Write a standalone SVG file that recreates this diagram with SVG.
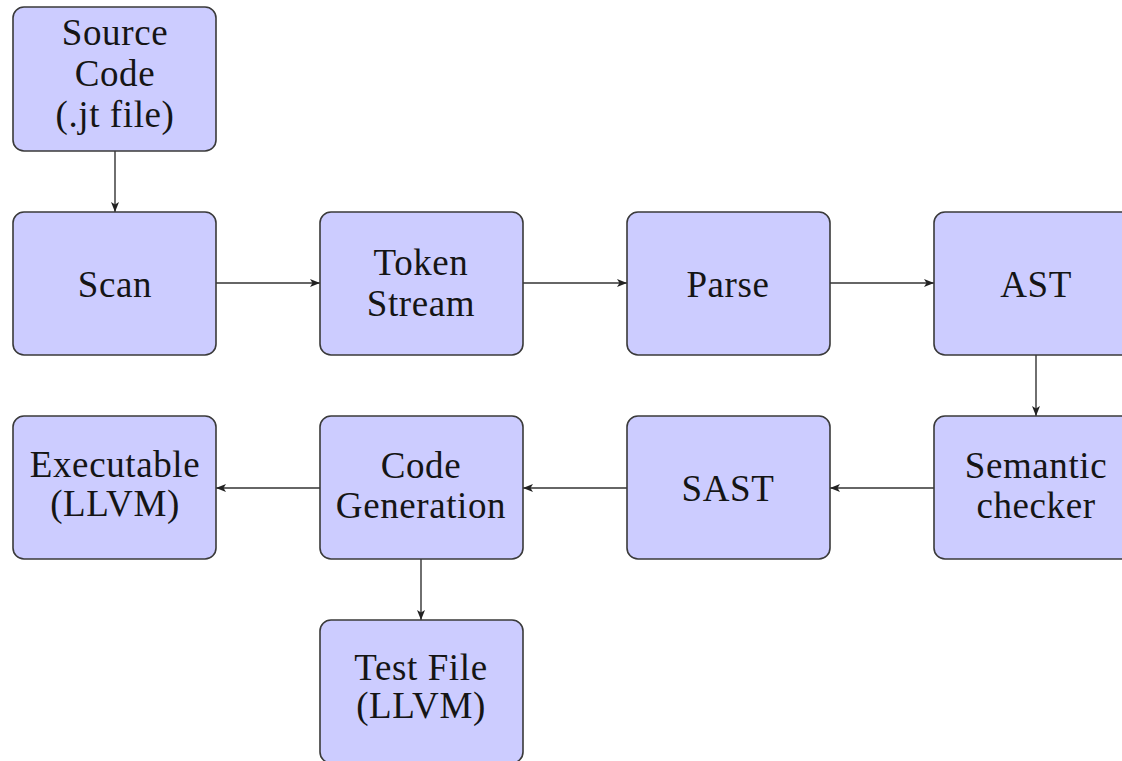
<svg xmlns="http://www.w3.org/2000/svg" width="1122" height="761" viewBox="0 0 1122 761">
<defs>
<style>
.box{fill:#ccccff;stroke:#3a3a3a;stroke-width:1.6}
.t{font-family:"Liberation Serif","DejaVu Serif",serif;font-size:37px;letter-spacing:0.6px;fill:#151515;text-anchor:middle}
.c{stroke:#333;stroke-width:1.4;fill:none;marker-end:url(#ah)}
</style>
<marker id="ah" viewBox="0 0 10 8" refX="10" refY="4" markerWidth="10" markerHeight="8" markerUnits="userSpaceOnUse" orient="auto">
<path d="M0,0 L10,4 L0,8 L2.5,4 Z" fill="#222"/>
</marker>
</defs>
<rect width="1122" height="761" fill="#fff"/>
<g id="connectors">
<line class="c" x1="115" y1="151" x2="115" y2="212"/>
<line class="c" x1="216" y1="283" x2="320" y2="283"/>
<line class="c" x1="523" y1="283" x2="627" y2="283"/>
<line class="c" x1="830" y1="283" x2="934" y2="283"/>
<line class="c" x1="1036" y1="355" x2="1036" y2="416"/>
<line class="c" x1="934" y1="488" x2="830" y2="488"/>
<line class="c" x1="627" y1="488" x2="523" y2="488"/>
<line class="c" x1="320" y1="488" x2="216" y2="488"/>
<line class="c" x1="421" y1="559" x2="421" y2="620"/>
</g>
<g id="source"><rect class="box" x="13" y="7" width="203" height="144" rx="11"/>
<text class="t" x="115" y="45">Source</text><text class="t" x="115" y="86">Code</text><text class="t" x="115" y="127">(.jt file)</text></g>
<g id="scan"><rect class="box" x="13" y="212" width="203" height="143" rx="11"/>
<text class="t" x="115" y="297">Scan</text></g>
<g id="token"><rect class="box" x="320" y="212" width="203" height="143" rx="11"/>
<text class="t" x="421" y="275">Token</text><text class="t" x="421" y="316">Stream</text></g>
<g id="parse"><rect class="box" x="627" y="212" width="203" height="143" rx="11"/>
<text class="t" x="728" y="297">Parse</text></g>
<g id="ast"><rect class="box" x="934" y="212" width="203" height="143" rx="11"/>
<text class="t" x="1036" y="297">AST</text></g>
<g id="semantic"><rect class="box" x="934" y="416" width="203" height="143" rx="11"/>
<text class="t" x="1036" y="478">Semantic</text><text class="t" x="1036" y="518">checker</text></g>
<g id="sast"><rect class="box" x="627" y="416" width="203" height="143" rx="11"/>
<text class="t" x="728" y="501">SAST</text></g>
<g id="codegen"><rect class="box" x="320" y="416" width="203" height="143" rx="11"/>
<text class="t" x="421" y="478">Code</text><text class="t" x="421" y="518">Generation</text></g>
<g id="executable"><rect class="box" x="13" y="416" width="203" height="143" rx="11"/>
<text class="t" x="115" y="477">Executable</text><text class="t" x="115" y="516">(LLVM)</text></g>
<g id="testfile"><rect class="box" x="320" y="620" width="203" height="143" rx="11"/>
<text class="t" x="421" y="680">Test File</text><text class="t" x="421" y="718">(LLVM)</text></g>
</svg>
